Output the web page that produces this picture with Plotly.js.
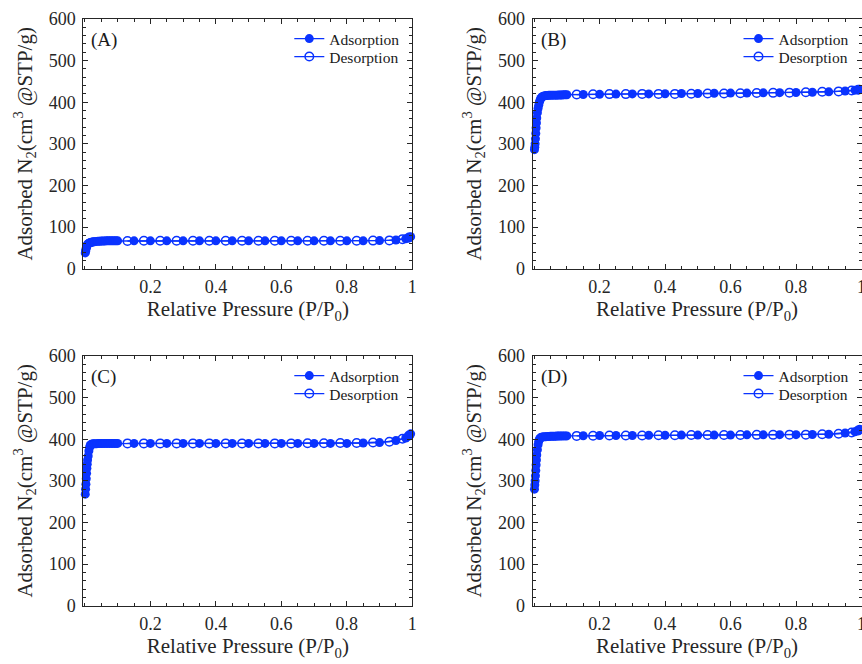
<!DOCTYPE html>
<html>
<head>
<meta charset="utf-8">
<script src="https://cdn.plot.ly/plotly-3.0.1.min.js"></script>
<style>html,body{margin:0;padding:0;background:#fff;}#chart{width:862px;height:664px;}</style>
</head>
<body>
<div id="chart"></div>
<script>
// Relative pressure (P/P0) of adsorption points
const P_ads = [0.001,0.002,0.003,0.004,0.005,0.006,0.007,0.008,0.01,0.012,0.014,0.016,0.018,0.02,0.023,0.026,0.03,0.035,0.04,0.045,0.05,0.055,0.06,0.065,0.07,0.075,0.08,0.085,0.09,0.095,0.1,0.15,0.2,0.25,0.3,0.35,0.4,0.45,0.5,0.55,0.6,0.65,0.7,0.75,0.8,0.85,0.9,0.95,0.98,0.99,0.995];
// Relative pressure of desorption points
const P_des = [0.99,0.97,0.93,0.88,0.83,0.78,0.73,0.68,0.63,0.58,0.53,0.48,0.43,0.38,0.33,0.28,0.23,0.18,0.13];

// Adsorbed volume (cm3 @STP/g)
const A_ads = [38,42,46,50,53,55,57,58, 60,61,62,62.5,63,63.5, 64,64.5,65, 65.5,66,66,66.5,66.5,66.5,67,67,67,67,67,67,67,67, 67,67,67,67,67,67,67,67,67,67,67,67,67,67,67,67.5, 69,72,74,77];
const A_des = [75,71,68,67.5,67,67,67,67,67,67,67,67,67,67,67,67,67,67,66.5];

const B_ads = [286,292,300,312,325,338,350,362, 375,385,393,400,405,409, 412,414,415, 416,416,416.5,416.5,417,417,417,417,417.5,417.5,417.5,418,418,418, 418.5,419,419.5,420,420,420.5,421,421,421.5,422,422,422.5,423,423.5,424,425, 427,429,430,431];
const B_des = [430,428,426,425,424,423,422.5,422,421.5,421,421,420.5,420,420,420,419.5,419.5,419,418.5];

const C_ads = [268,280,292,305,318,330,340,350, 360,372,380,385,387,388, 388.5,389,389, 389,389.5,389.5,389.5,390,390,390,390,390,390,390,390,390,390, 390,390,390,390,390,390,390,390,390,390,390,390,390,390,391,392, 397,403,408,413];
const C_des = [409,401,394,392,391,391,390.5,390.5,390,390,390,390,390,390,390,390,390,390,390];

const D_ads = [280,290,300,312,325,338,350,362, 375,387,395,400,402,404, 405,405.5,406, 406,406.5,406.5,407,407,407,407,407.5,407.5,407.5,408,408,408,408, 408.5,409,409,409,409.5,409.5,410,410,410,410,410.5,410.5,411,411,411.5,412, 415,418,421,424];
const D_des = [421,416,413,412,411,411,410.5,410.5,410,410,410,410,409.5,409.5,409,409,409,408.5,408];

const panelLabels = ['(A)','(B)','(C)','(D)'];
const seriesNames = ['Adsorption','Desorption'];
const xTickVals = [0.2,0.4,0.6,0.8,1];
const xTickText = ['0.2','0.4','0.6','0.8','1'];
const yTickVals = [0,100,200,300,400,500,600];

const blue = '#0a33ff';
const W = 862, H = 664;
const serif = "'Liberation Serif', 'Times New Roman', Times, serif";

const panels = [
  {ads:A_ads, des:A_des, px:[83.3,412.3], py:[19,268.7]},
  {ads:B_ads, des:B_des, px:[532.5,861.5], py:[19,268.7]},
  {ads:C_ads, des:C_des, px:[83.3,412.3], py:[356,605.7]},
  {ads:D_ads, des:D_des, px:[532.5,861.5], py:[356,605.7]}
];

const data = [];
const layout = {
  width: W, height: H,
  margin: {l:0, r:0, t:0, b:0},
  paper_bgcolor: '#fff', plot_bgcolor: '#fff',
  font: {family: serif, color: '#1a1a1a'},
  showlegend: true,
  annotations: []
};

panels.forEach((p, i) => {
  const n = i === 0 ? '' : String(i + 1);
  const xa = 'x' + n, ya = 'y' + n;
  const lgA = 'legend' + (i === 0 ? '' : String(2 * i + 1));
  const lgD = 'legend' + String(2 * i + 2);
  data.push({
    x: P_ads, y: p.ads, xaxis: xa, yaxis: ya, legend: lgA,
    name: seriesNames[0], type: 'scatter', mode: 'lines+markers',
    line: {color: blue, width: 1.3},
    marker: {symbol: 'circle', size: 9, color: blue},
    cliponaxis: false
  });
  data.push({
    x: P_des, y: p.des, xaxis: xa, yaxis: ya, legend: lgD,
    name: seriesNames[1], type: 'scatter', mode: 'lines+markers',
    line: {color: blue, width: 1.3},
    marker: {symbol: 'circle-open', size: 8.5, color: blue, line: {width: 1.5, color: blue}},
    cliponaxis: false
  });
  const common = {
    showline: true, linecolor: '#262626', linewidth: 1, mirror: 'ticks',
    ticks: 'inside', ticklen: 5, tickcolor: '#262626', tickwidth: 1,
    showgrid: false, zeroline: false, fixedrange: true,
    ticklabeloverflow: 'allow',
    tickfont: {family: serif, size: 18, color: '#262626'}
  };
  layout['xaxis' + n] = Object.assign({}, common, {
    domain: [p.px[0] / W, p.px[1] / W],
    anchor: ya, range: [-0.005, 1.0],
    tickmode: 'array', tickvals: xTickVals, ticktext: xTickText,
    minor: {dtick: 0.05, tick0: 0, ticks: 'inside', ticklen: 3, tickcolor: '#262626', showgrid: false},
    ticklabelstandoff: 2,
    title: {text: 'Relative Pressure (P/P<sub>0</sub>)', font: {family: serif, size: 21, color: '#262626'}, standoff: 4}
  });
  layout['yaxis' + n] = Object.assign({}, common, {
    domain: [1 - p.py[1] / H, 1 - p.py[0] / H],
    anchor: xa, range: [0, 600],
    tickmode: 'array', tickvals: yTickVals,
    minor: {dtick: 20, tick0: 0, ticks: 'inside', ticklen: 3, tickcolor: '#262626', showgrid: false},
    ticklabelstandoff: 3,
    title: {text: 'Adsorbed N<sub>2</sub>(cm<sup>3</sup> @STP/g)', font: {family: serif, size: 21, color: '#262626'}, standoff: 10}
  });
  const lgCommon = {
    x: (p.px[0] + 206) / W, xanchor: 'left', yanchor: 'middle',
    bgcolor: 'rgba(0,0,0,0)', borderwidth: 0,
    font: {family: serif, size: 15.5, color: '#1a1a1a'},
    itemwidth: 30
  };
  layout[lgA] = Object.assign({}, lgCommon, {y: 1 - (p.py[0] + 20) / H});
  layout[lgD] = Object.assign({}, lgCommon, {y: 1 - (p.py[0] + 38) / H});
  layout.annotations.push({
    xref: 'paper', yref: 'paper', x: (p.px[0] + 6) / W, y: 1 - (p.py[0] + 21) / H,
    xanchor: 'left', yanchor: 'middle', showarrow: false,
    text: panelLabels[i], font: {family: serif, size: 19, color: '#1a1a1a'}
  });
});

Plotly.newPlot('chart', data, layout, {displayModeBar: false, staticPlot: true});
</script>
</body>
</html>
